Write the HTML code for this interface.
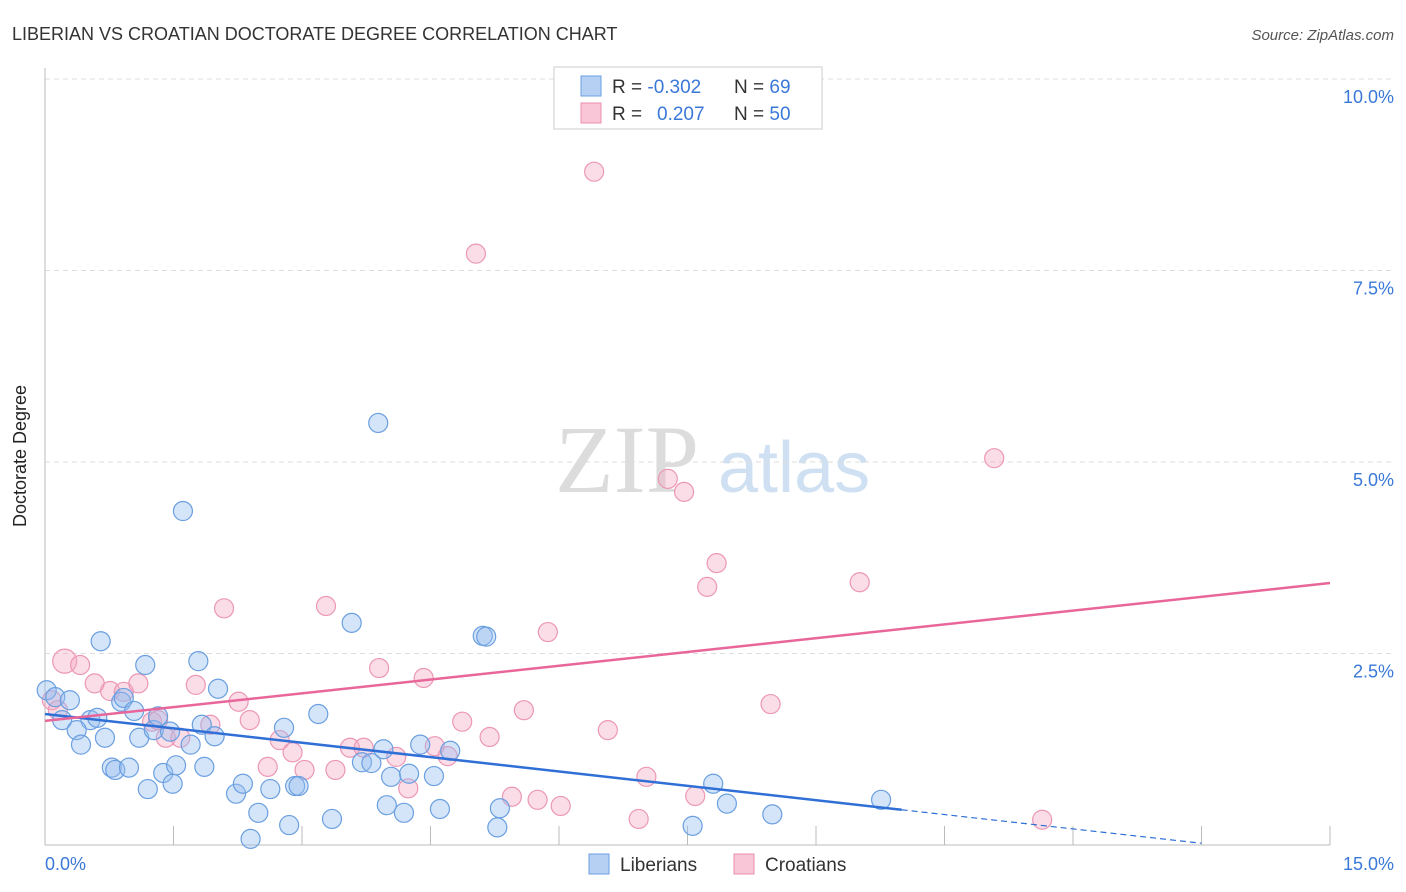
<!DOCTYPE html>
<html><head><meta charset="utf-8"><style>
body{margin:0;background:#fff;font-family:"Liberation Sans",sans-serif;}
svg{display:block}
</style></head><body>
<svg id="chart" width="1406" height="892" xmlns="http://www.w3.org/2000/svg">
<text x="12" y="40" font-size="18" fill="#333">LIBERIAN VS CROATIAN DOCTORATE DEGREE CORRELATION CHART</text>
<text x="1394" y="40" font-size="15" fill="#555" font-style="italic" text-anchor="end">Source: ZipAtlas.com</text>
<g>
<text x="555" y="492" font-size="96" font-family="Liberation Serif,serif" fill="#dcdcdc">ZIP</text>
<text x="718" y="492" font-size="72" fill="#cfe0f3">atlas</text>
</g>
<g id="grid"></g>
<line x1="45" y1="68" x2="45" y2="845" stroke="#bbb"/>
<line x1="45" y1="845" x2="1330" y2="845" stroke="#bbb"/>
<g id="xticks"></g>
<text x="26" y="456" font-size="18" fill="#222" text-anchor="middle" transform="rotate(-90 26 456)">Doctorate Degree</text>
<text x="45" y="870" font-size="18" fill="#3a78d8">0.0%</text>
<text x="1394" y="870" font-size="18" fill="#3a78d8" text-anchor="end">15.0%</text>
<g id="pts"></g>
<g id="lines"></g>
<g>
<rect x="554" y="67" width="268" height="62" fill="#fff" stroke="#ccc"/>
<rect x="581" y="76" width="20" height="20" fill="#b5d0f3" stroke="#6a9fe0"/>
<rect x="581" y="103" width="20" height="20" fill="#f8c6d6" stroke="#eb8fb0"/>
<text x="612" y="93" font-size="19" fill="#333">R = <tspan fill="#3a78d8">-0.302</tspan><tspan x="734">N = </tspan><tspan fill="#3a78d8">69</tspan></text>
<text x="612" y="120" font-size="19" fill="#333">R = <tspan x="657" fill="#3a78d8">0.207</tspan><tspan x="734">N = </tspan><tspan fill="#3a78d8">50</tspan></text>
</g>
<g>
<rect x="589" y="854" width="20" height="20" fill="#b5d0f3" stroke="#6a9fe0"/>
<text x="620" y="871" font-size="19" fill="#333">Liberians</text>
<rect x="734" y="854" width="20" height="20" fill="#f8c6d6" stroke="#eb8fb0"/>
<text x="765" y="871" font-size="19" fill="#333">Croatians</text>
</g>
</svg>
<script>
const yTicks=[2.5,5.0,7.5,10.0];
const yTickLabels=["2.5%","5.0%","7.5%","10.0%"];
const xTicks=[0,1.5,3,4.5,6,7.5,9,10.5,12,13.5,15];
const libX=[0.02,0.12,0.29,0.20,0.53,0.61,0.37,0.42,0.65,0.70,0.78,0.82,0.98,0.89,0.92,1.04,1.10,1.17,1.20,1.27,1.32,1.38,1.46,1.49,1.53,1.61,1.70,1.79,1.86,1.83,1.98,2.02,2.23,2.31,2.40,2.49,2.63,2.79,2.85,2.92,2.96,3.19,3.35,3.58,3.70,3.81,3.89,3.95,3.99,4.04,4.19,4.25,4.38,4.54,4.61,4.73,5.11,5.15,5.28,5.31,7.56,7.80,7.96,8.49,9.76];
const libY=[2.02,1.93,1.89,1.63,1.63,1.66,1.50,1.31,2.66,1.40,1.01,0.98,1.01,1.87,1.92,1.75,1.40,2.35,0.73,1.50,1.68,0.94,1.48,0.80,1.04,4.36,1.31,2.40,1.02,1.57,1.42,2.04,0.67,0.80,0.08,0.42,0.73,1.53,0.26,0.77,0.77,1.71,0.34,2.90,1.08,1.07,5.51,1.25,0.52,0.89,0.42,0.93,1.31,0.90,0.47,1.23,2.73,2.72,0.23,0.48,0.25,0.80,0.54,0.40,0.59];
const croX=[0.23,0.41,0.58,0.76,0.92,1.09,1.25,1.32,1.41,1.58,1.76,1.93,2.09,2.26,2.39,2.60,2.74,2.89,3.03,3.28,3.39,3.56,3.72,3.90,4.10,4.24,4.42,4.55,4.70,4.87,5.03,5.19,5.45,5.59,5.75,5.87,6.02,6.41,6.57,6.93,7.02,7.27,7.46,7.59,7.73,7.84,8.47,9.51,11.08,11.64,0.08,0.15];
const croY=[2.40,2.35,2.11,2.01,2.00,2.11,1.61,1.63,1.40,1.40,2.09,1.57,3.09,1.87,1.63,1.02,1.37,1.21,0.98,3.12,0.98,1.27,1.27,2.31,1.15,0.74,2.18,1.29,1.16,1.61,7.72,1.41,0.63,1.76,0.59,2.78,0.51,8.79,1.50,0.34,0.89,4.78,4.61,0.64,3.37,3.68,1.84,3.43,5.05,0.33,1.89,1.76];
const libTrend=[1.71,-0.125];
const croTrend=[1.62,0.12];
const NS="http://www.w3.org/2000/svg";
const xs=v=>45+v/15*1285;
const ys=v=>845-v*76.6;
function mk(tag,attrs,parent){const e=document.createElementNS(NS,tag);for(const k in attrs)e.setAttribute(k,attrs[k]);document.getElementById(parent).appendChild(e);return e;}
yTicks.forEach((t,i)=>{
 const l=mk('line',{x1:45,x2:1394,y1:ys(t),y2:ys(t),stroke:'#ddd','stroke-dasharray':'5,4'},'grid');
 
 
 const tx=mk('text',{x:1394,y:ys(t)+24,'font-size':18,fill:'#3a78d8','text-anchor':'end'},'grid');
 tx.textContent=yTickLabels[i];
 
 
});
xTicks.forEach(t=>{
 const l=mk('line',{x1:xs(t),x2:xs(t),y1:826,y2:845,stroke:'#bbb'},'xticks');
 
 
});
croX.forEach((x,i)=>{
 const c=mk('circle',{cx:xs(x),cy:ys(croY[i]),r:i===0?12:9.5,fill:'rgba(245,170,195,0.4)',stroke:'#ec97b6','stroke-width':1.2},'pts');
 
 
});
libX.forEach((x,i)=>{
 const c=mk('circle',{cx:xs(x),cy:ys(libY[i]),r:9.5,fill:'rgba(150,190,240,0.4)',stroke:'#6a9fe0','stroke-width':1.2},'pts');
 
 
});
const lb=mk('line',{x1:xs(0),y1:ys(libTrend[0]),x2:xs(10),y2:ys(libTrend[0]+libTrend[1]*10),stroke:'#2f6fd6','stroke-width':2.5},'lines');


const ld=mk('line',{x1:xs(10),y1:ys(libTrend[0]+libTrend[1]*10),x2:xs(13.5),y2:ys(libTrend[0]+libTrend[1]*13.5),stroke:'#2f6fd6','stroke-width':1.2,'stroke-dasharray':'6,4'},'lines');


const lc=mk('line',{x1:xs(0),y1:ys(croTrend[0]),x2:xs(15),y2:ys(croTrend[0]+croTrend[1]*15),stroke:'#e8669a','stroke-width':2.5},'lines');


</script>
</body></html>
